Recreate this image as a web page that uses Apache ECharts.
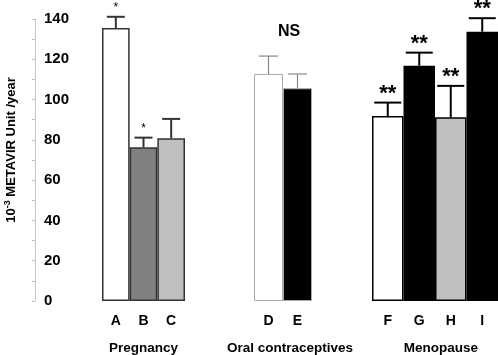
<!DOCTYPE html>
<html><head><meta charset="utf-8">
<script src="https://cdn.jsdelivr.net/npm/echarts@6/dist/echarts.min.js"></script>
<style>html,body{margin:0;padding:0;background:#fff}#c{width:498px;height:355px}</style>
</head><body><div id="c"></div>
<script>
// ---- data ----
const yTicks = [0, 20, 40, 60, 80, 100, 120, 140];
const pregCats = ['A', 'B', 'C'];
const pregVals = [135.5, 76.3, 80.8];
const pregErr = [5.6, 4.8, 9.6];
const pregSig = ['*', '*', ''];
const ocCats = ['D', 'E'];
const ocVals = [112.7, 105.6];
const ocErr = [8.9, 7.1];
const ocSig = ['', ''];
const ocNote = 'NS';
const menoCats = ['F', 'G', 'H', 'I'];
const menoVals = [91.8, 116.8, 91.2, 133.7];
const menoErr = [6.7, 6.5, 15.6, 6.7];
const menoSig = ['**', '**', '**', '**'];
const groupNames = ['Pregnancy', 'Oral contraceptives', 'Menopause'];

// ---- styles ----
const F = 'Liberation Sans, Arial, sans-serif';
const groups = [
  {cats: pregCats, vals: pregVals, err: pregErr, sig: pregSig,
   fill: ['#ffffff', '#808080', '#bfbfbf'], border: '#333', bw: 1.5,
   ecol: '#333', ew: 2, cap: 18, sigSize: 12, sigWeight: 'normal', sigDy: -3, namePad: [0,0,0,0]},
  {cats: ocCats, vals: ocVals, err: ocErr, sig: ocSig,
   fill: ['#ffffff', '#000000'], border: '#aaa', bw: 1,
   ecol: '#888', ew: 1.2, cap: 19, sigSize: 12, sigWeight: 'bold', sigDy: -3, namePad: [0,0,0,14]},
  {cats: menoCats, vals: menoVals, err: menoErr, sig: menoSig,
   fill: ['#ffffff', '#000000', '#bfbfbf', '#000000'], border: '#000', bw: 1.5,
   ecol: '#000', ew: 2, cap: 27, sigSize: 22, sigWeight: 'bold', sigDy: 2, namePad: [0,0,0,12]}
];
const gridPos = [{left: 102, width: 83}, {left: 254, width: 58}, {left: 372, width: 126}];

const grid = [], xAxis = [], yAxis = [], series = [];
groups.forEach((g, gi) => {
  grid.push({left: gridPos[gi].left, width: gridPos[gi].width, top: 19, bottom: 54,
    containLabel: false, outerBoundsMode: 'none'});
  xAxis.push({
    type: 'category', gridIndex: gi, data: g.cats,
    axisLine: {show: false}, axisTick: {show: false},
    axisLabel: {color: '#000', fontFamily: F, fontWeight: 'bold', fontSize: 14, margin: 13},
    name: groupNames[gi], nameLocation: 'middle', nameGap: 40,
    nameTextStyle: {color: '#000', fontFamily: F, fontWeight: 'bold', fontSize: 13.5, padding: g.namePad}
  });
  const ya = {
    type: 'value', gridIndex: gi, min: yTicks[0], max: yTicks[yTicks.length - 1], interval: 20,
    splitLine: {show: false}
  };
  if (gi === 0) {
    Object.assign(ya, {
      offset: 67,
      axisLine: {show: true, lineStyle: {color: '#c8c8c8', width: 1}},
      axisTick: {show: true, length: 3, lineStyle: {color: '#bbb'}},
      minorTick: {show: true, splitNumber: 2, length: 3, lineStyle: {color: '#bbb'}},
      axisLabel: {inside: true, margin: 9, color: '#000', fontFamily: F, fontWeight: 'bold', fontSize: 15},
      name: '{a|10}{s|-3}{a| METAVIR Unit /year}', nameLocation: 'middle', nameGap: 16, nameRotate: 90,
      nameTextStyle: {padding: [0, 0, 0, 20], rich: {
        a: {fontFamily: F, fontWeight: 'bold', fontSize: 13, color: '#000', lineHeight: 15},
        s: {fontFamily: F, fontWeight: 'bold', fontSize: 9, color: '#000', lineHeight: 15, padding: [0,0,7,0]}
      }}
    });
  } else {
    Object.assign(ya, {show: false});
  }
  yAxis.push(ya);
  series.push({
    type: 'bar', xAxisIndex: gi, yAxisIndex: gi, barWidth: '100%', barCategoryGap: '0%',
    data: g.vals.map((v, i) => ({value: v, itemStyle: {color: g.fill[i], borderColor: g.border, borderWidth: g.bw}})),
    z: 2
  });
  series.push({
    type: 'custom', xAxisIndex: gi, yAxisIndex: gi, z: 3,
    data: g.vals.map((v, i) => [i, v, g.err[i]]),
    renderItem: (params, api) => {
      const i = api.value(0), v = api.value(1), e = api.value(2);
      const top = api.coord([i, v + e]);
      const base = api.coord([i, v]);
      const hw = g.cap / 2;
      const children = [
        {type: 'line', shape: {x1: top[0], y1: base[1], x2: top[0], y2: top[1]}, style: {stroke: g.ecol, lineWidth: g.ew}},
        {type: 'line', shape: {x1: top[0] - hw, y1: top[1], x2: top[0] + hw, y2: top[1]}, style: {stroke: g.ecol, lineWidth: g.ew}}
      ];
      const s = g.sig[params.dataIndex];
      if (s) {
        children.push({type: 'text', style: {text: s, x: top[0], y: top[1] + g.sigDy, align: 'center', verticalAlign: 'bottom',
          fontFamily: F, fontSize: g.sigSize, fontWeight: g.sigWeight, fill: '#000'}});
      }
      return {type: 'group', children};
    }
  });
});

const chart = echarts.init(document.getElementById('c'), null, {renderer: 'canvas'});
chart.setOption({
  animation: false, backgroundColor: '#fff',
  grid, xAxis, yAxis, series,
  graphic: [{type: 'text', left: 278, top: 24,
    style: {text: ocNote, fontFamily: F, fontWeight: 'bold', fontSize: 16, fill: '#000'}}]
});
</script></body></html>
